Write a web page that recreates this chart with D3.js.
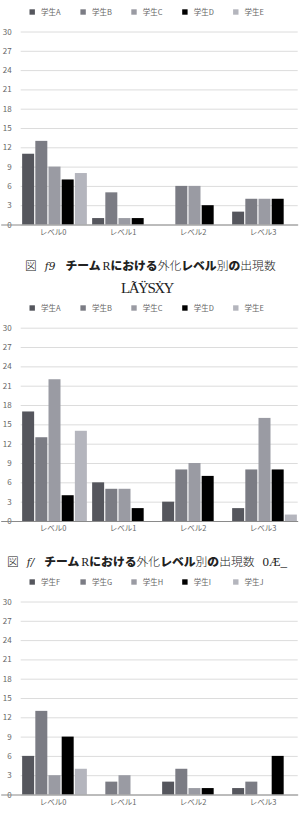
<!DOCTYPE html>
<html>
<head>
<meta charset="utf-8">
<script src="https://cdn.jsdelivr.net/npm/d3@7"></script>
<style>
  body { margin: 0; background: #fff; }
  svg { display: block; }
</style>
</head>
<body>
<svg id="chart" width="302" height="817"></svg>
<script>
var levels = ['レベル0', 'レベル1', 'レベル2', 'レベル3'];
var yTicks = [0, 3, 6, 9, 12, 15, 18, 21, 24, 27, 30];

var studentsR = ['学生A', '学生B', '学生C', '学生D', '学生E'];
var studentsS = ['学生F', '学生G', '学生H', '学生I', '学生J'];

// one row per student, one value per level
var team1 = [[11, 1, 0, 2], [13, 5, 6, 4], [9, 1, 6, 4], [7, 1, 3, 4], [8, 0, 0, 0]];
var team2 = [[17, 6, 3, 2], [13, 5, 8, 8], [22, 5, 9, 16], [4, 2, 7, 8], [14, 0, 0, 1]];
var team3 = [[6, 0, 2, 1], [13, 2, 4, 2], [3, 3, 1, 0], [9, 0, 1, 6], [4, 0, 0, 0]];

var colors = ['#55565d', '#7b7c84', '#9a9ba3', '#000000', '#b4b5bd'];

var svg = d3.select('#chart');
var jp = '"Noto Sans CJK JP", "Noto Sans", sans-serif';

function drawChart(names, values, legendY, yTop, yBottom) {
  var g = svg.append('g');

  var x0 = d3.scaleBand().domain(levels).range([19.5, 299.5]);
  var x1 = d3.scaleBand().domain(d3.range(names.length))
    .range([0, x0.bandwidth()]).paddingInner(0.09).paddingOuter(0.2);
  var y = d3.scaleLinear().domain([0, 30]).range([yBottom, yTop]);

  // legend
  var leg = g.selectAll('.leg').data(names).enter().append('g')
    .attr('transform', (d, i) => `translate(${29.5 + i * 50.9},${legendY})`);
  leg.append('rect').attr('x', 0).attr('y', -2.7).attr('width', 5.4).attr('height', 5.4)
    .attr('fill', (d, i) => colors[i]);
  leg.append('text').attr('x', 11.5).attr('y', 2.8)
    .attr('font-family', jp).attr('font-size', 7.5).attr('fill', '#666')
    .text(d => d);

  // grid + y labels
  var yAxis = d3.axisLeft(y).tickValues(yTicks).tickSize(-277).tickPadding(9)
    .tickFormat(d3.format('d'));
  var ya = g.append('g').attr('transform', 'translate(20.7,0)').call(yAxis);
  ya.select('.domain').remove();
  ya.selectAll('.tick line').attr('stroke', '#dcdcdc').attr('stroke-width', 1);
  ya.selectAll('.tick text').attr('font-family', jp).attr('font-size', 8)
    .attr('fill', '#666');

  // bars
  var grp = g.selectAll('.grp').data(levels).enter().append('g')
    .attr('transform', d => `translate(${x0(d)},0)`);
  grp.selectAll('rect')
    .data((lv, li) => values.map((row, si) => ({ s: si, v: row[li] })))
    .enter().append('rect')
    .attr('x', d => x1(d.s))
    .attr('width', x1.bandwidth())
    .attr('y', d => y(d.v))
    .attr('height', d => y(0) - y(d.v))
    .attr('fill', d => colors[d.s]);

  // x axis
  var xAxis = d3.axisBottom(x0).tickSize(0).tickPadding(5);
  var xa = g.append('g').attr('transform', `translate(0,${y(0)})`).call(xAxis);
  xa.select('.domain').attr('d', 'M1.2,0.5H298.2').attr('stroke', '#8a8a8a').attr('stroke-width', 1.2);
  xa.selectAll('.tick text').attr('font-family', jp).attr('font-size', 7.5)
    .attr('fill', '#666').attr('dx', -1.5);
}

function caption(x, yPos, tail) {
  var t = svg.append('text').attr('x', x).attr('y', yPos)
    .attr('font-family', jp).attr('font-size', 11.8).attr('fill', '#222');
  t.append('tspan').attr('font-weight', 300).text('図');
  t.append('tspan').attr('dx', 8).attr('font-family', '"DejaVu Serif", serif')
    .attr('font-style', 'italic').attr('font-size', 10.5).attr('font-weight', 300)
    .text(tail.fig);
  t.append('tspan').attr('dx', 10).attr('font-weight', 900).text('チーム');
  t.append('tspan').attr('dx', 2).attr('font-family', '"Liberation Serif", serif')
    .attr('font-size', 12).text('R');
  t.append('tspan').attr('font-weight', 900).text('における');
  t.append('tspan').attr('font-weight', 300).text('外化');
  t.append('tspan').attr('font-weight', 900).text('レベル');
  t.append('tspan').attr('font-weight', 300).text('別');
  t.append('tspan').attr('font-weight', 900).text('の');
  t.append('tspan').attr('font-weight', 300).text('出現数');
  if (tail.extra) {
    t.append('tspan').attr('dx', 8).attr('font-family', '"Liberation Serif", serif')
      .attr('font-size', 13).text(tail.extra);
  }
}

drawChart(studentsR, team1, 12, 31.5, 224.5);
caption(25, 269.5, { fig: 'f9' });
svg.append('text').attr('x', 147).attr('y', 293).attr('text-anchor', 'middle')
  .attr('font-family', '"Liberation Serif", serif').attr('font-size', 15)
  .attr('letter-spacing', -1.5).attr('fill', '#222').text('LÃŸSẊY');

drawChart(studentsR, team2, 308, 327.7, 521);
caption(7, 566, { fig: 'f/', extra: '0Æ_' });

drawChart(studentsS, team3, 582, 601.5, 794.5);
</script>
</body>
</html>
